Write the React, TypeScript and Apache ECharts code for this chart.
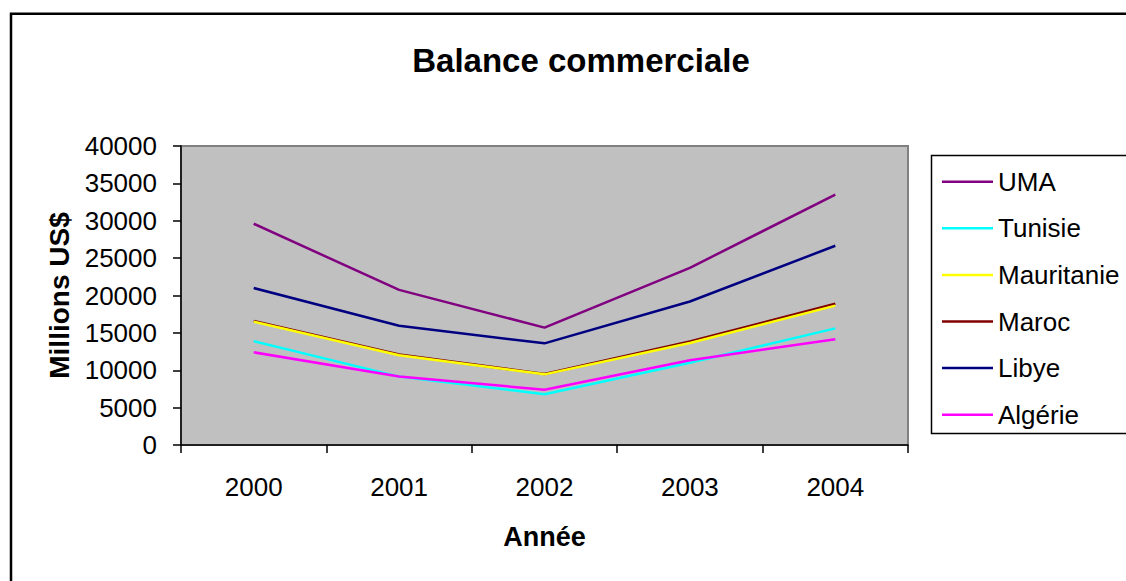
import React, { useEffect, useRef } from "react";
import * as echarts from "echarts";

const years = ["2000", "2001", "2002", "2003", "2004"];
const seriesNames = ["UMA", "Tunisie", "Mauritanie", "Maroc", "Libye", "Algérie"];
const uma = [29600, 20750, 15700, 23700, 33500];
const tunisie = [13900, 9150, 6800, 11000, 15600];
const mauritanie = [16500, 12000, 9450, 13650, 18650];
const maroc = [16600, 12100, 9500, 13850, 18900];
const libye = [21000, 15950, 13600, 19200, 26650];
const algerie = [12400, 9150, 7400, 11350, 14150];
const seriesValues = [uma, tunisie, mauritanie, maroc, libye, algerie];
const seriesColors = ["#800080", "#00FFFF", "#FFFF00", "#800000", "#000080", "#FF00FF"];
const seriesZ = [2, 2, 4, 3, 2, 2];

const FONT = "'Liberation Sans', Arial, sans-serif";

export default function App() {
  const ref = useRef<HTMLDivElement>(null);
  useEffect(() => {
    if (!ref.current) return;
    const chart = echarts.init(ref.current, null, { renderer: "svg" });
    chart.setOption({
      animation: false,
      backgroundColor: "#ffffff",
      textStyle: { fontFamily: FONT },
      title: {
        text: "Balance commerciale",
        left: 576,
        top: 39,
        textAlign: "center",
        textStyle: { fontFamily: FONT, fontSize: 33, fontWeight: "bold", color: "#000" },
      },
      graphic: [
        {
          type: "rect",
          shape: { x: 11, y: 13.7, width: 1300, height: 800 },
          style: { fill: "none", stroke: "#000", lineWidth: 2.5 },
          silent: true,
          z: 100,
        },
        {
          type: "rect",
          shape: { x: 931.5, y: 155.5, width: 400, height: 278 },
          style: { fill: "#fff", stroke: "#000", lineWidth: 1.5 },
          silent: true,
          z: 0,
        },
      ],
      legend: {
        orient: "vertical",
        left: 942,
        top: 168.7,
        padding: 0,
        icon: "rect",
        itemWidth: 51,
        itemHeight: 2.5,
        itemGap: 20.6,
        z: 10,
        textStyle: { fontFamily: FONT, fontSize: 26, color: "#000", lineHeight: 26 },
        data: seriesNames,
      },
      grid: {
        left: 181,
        top: 146,
        width: 727,
        height: 299,
        show: true,
        backgroundColor: "#C0C0C0",
        borderColor: "#808080",
        borderWidth: 2,
      },
      xAxis: {
        type: "category",
        data: years,
        boundaryGap: true,
        name: "Année",
        nameLocation: "middle",
        nameGap: 78,
        nameTextStyle: { fontFamily: FONT, fontSize: 27, fontWeight: "bold", color: "#000" },
        axisLine: { lineStyle: { color: "#000", width: 1.5 } },
        axisTick: { show: true, length: 8, inside: false, alignWithLabel: false, lineStyle: { color: "#000", width: 1.5 } },
        axisLabel: { fontFamily: FONT, fontSize: 26, color: "#000", margin: 29 },
        splitLine: { show: false },
      },
      yAxis: {
        type: "value",
        min: 0,
        max: 40000,
        interval: 5000,
        name: "Millions US$",
        nameLocation: "middle",
        nameGap: 108,
        nameRotate: 90,
        nameTextStyle: { fontFamily: FONT, fontSize: 28, fontWeight: "bold", color: "#000" },
        axisLine: { show: true, lineStyle: { color: "#000", width: 1.5 } },
        axisTick: { show: true, length: 8, lineStyle: { color: "#000", width: 1.5 } },
        axisLabel: {
          fontFamily: FONT,
          fontSize: 26,
          color: "#000",
          margin: 24,
          formatter: (v: number) => String(v),
        },
        splitLine: { show: false },
      },
      series: seriesNames.map((name, i) => ({
        name,
        type: "line",
        data: seriesValues[i],
        symbol: "none",
        showSymbol: false,
        z: seriesZ[i],
        itemStyle: { color: seriesColors[i] },
        lineStyle: { color: seriesColors[i], width: 2.5 },
      })),
    });
    return () => chart.dispose();
  }, []);
  return (
    <div
      ref={ref}
      style={{ position: "absolute", left: 0, top: 0, width: 1126, height: 581 }}
    />
  );
}
